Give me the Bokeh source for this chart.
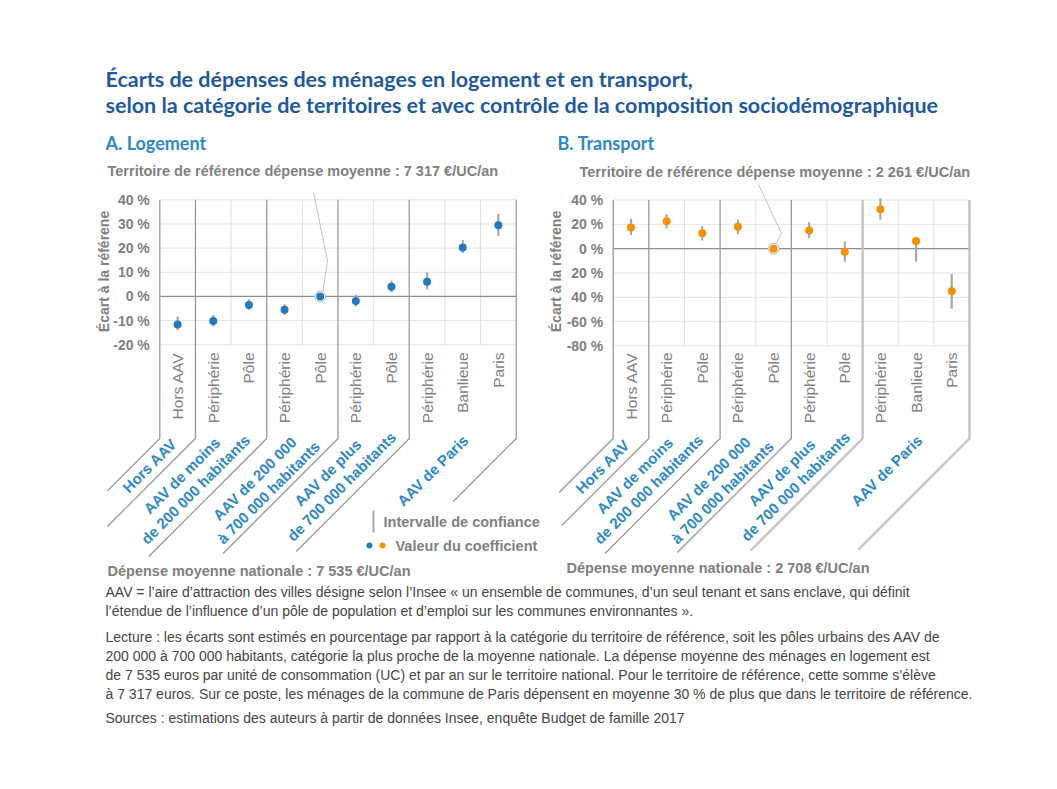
import math
from bokeh.plotting import figure
from bokeh.models import Range1d, LinearAxis, FixedTicker
from bokeh.core.properties import value
from bokeh.embed import file_html
from bokeh.resources import INLINE

# ---------------- data ----------------
categories = ["Hors AAV", "Périphérie", "Pôle", "Périphérie", "Pôle",
              "Périphérie", "Pôle", "Périphérie", "Banlieue", "Paris"]
groups = ["Hors AAV", "AAV de moins\nde 200 000 habitants",
          "AAV de 200 000\nà 700 000 habitants",
          "AAV de plus\nde 700 000 habitants", "AAV de Paris"]
group_sizes = [1, 2, 2, 2, 3]
reference_index = 4

logement_coef = [-11.6, -10.2, -3.5, -5.5, 0.0, -1.9, 4.0, 6.1, 20.3, 29.5]
logement_low = [-14.0, -12.3, -5.5, -7.6, 0.0, -4.2, 1.7, 3.0, 18.0, 25.0]
logement_high = [-8.3, -7.7, -1.1, -3.2, 0.0, 0.6, 6.5, 10.0, 23.4, 34.2]

transport_coef = [17.5, 22.5, 12.7, 18.0, 0.0, 14.9, -2.5, 32.4, 6.2, -34.9]
transport_low = [11.3, 16.6, 6.8, 12.1, 0.0, 8.5, -10.7, 23.7, -10.7, -49.3]
transport_high = [24.5, 28.2, 18.6, 23.9, 0.0, 21.7, 5.9, 41.4, 8.5, -20.8]

logement_ticks = [-20, -10, 0, 10, 20, 30, 40]
logement_tick_labels = ["-20 %", "-10 %", "0 %", "10 %", "20 %", "30 %", "40 %"]
transport_ticks = [-80, -60, -40, -20, 0, 20, 40]
transport_tick_labels = ["-80 %", "-60 %", "40 %", "20 %", "0 %", "20 %", "40 %"]

title_lines = ["Écarts de dépenses des ménages en logement et en transport,",
               "selon la catégorie de territoires et avec contrôle de la composition sociodémographique"]
panel_titles = ["A. Logement", "B. Transport"]
reference_texts = ["Territoire de référence dépense moyenne : 7 317 €/UC/an",
                   "Territoire de référence dépense moyenne : 2 261 €/UC/an"]
national_texts = ["Dépense moyenne nationale  : 7 535 €/UC/an",
                  "Dépense moyenne nationale : 2 708 €/UC/an"]
y_axis_title = "Écart à la référene"
legend_texts = ["Intervalle de confiance", "Valeur du coefficient"]
notes = [
    "AAV = l’aire d’attraction des villes désigne selon l’Insee « un ensemble de communes, d’un seul tenant et sans enclave, qui définit",
    "l’étendue de l’influence d’un pôle de population et d’emploi sur les communes environnantes ».",
    "Lecture : les écarts sont estimés en pourcentage par rapport à la catégorie du territoire de référence, soit les pôles urbains des AAV de",
    "200 000 à 700 000 habitants, catégorie la plus proche de la moyenne nationale. La dépense moyenne des ménages en logement est",
    "de 7 535 euros par unité de consommation (UC) et par an sur le territoire national. Pour le territoire de référence, cette somme s’élève",
    "à 7 317 euros. Sur ce poste, les ménages de la commune de Paris dépensent en moyenne 30 % de plus que dans le territoire de référence.",
    "Sources : estimations des auteurs à partir de données Insee, enquête Budget de famille 2017",
]

# ---------------- styles ----------------
BLUE_DOT = "#2479bd"
ORANGE_DOT = "#f39200"
GRAY_TXT = "#808080"
CI_GRAY = "#a8a8a8"
TITLE_BLUE = "#1f5a9b"
SUB_BLUE = "#2e88c6"
FONT = "Liberation Sans"
HEAD = "Lato"

W, H = 1041, 773
OX, OY = 0, 0


def Y(py):
    return 2 * OY + H - py


p = figure(width=W, height=H, x_range=Range1d(OX, OX + W), y_range=Range1d(OY, OY + H),
           output_backend="svg", toolbar_location=None, x_axis_type=None, y_axis_type=None,
           min_border=0, outline_line_color=None, background_fill_color="white")


def page_text(x, y, txt, size, color, style="normal", font=FONT, angle=0.0,
              align="left", baseline="middle", **kw):
    p.text(x=[x], y=[Y(y)], text=[txt], text_font=value(font), text_font_size=f"{size}px",
           text_color=color, text_font_style=style, angle=angle, text_align=align,
           text_baseline=baseline, **kw)


def lin(v0, p0, v1, p1):
    k = (v1 - v0) / (p1 - p0)
    return lambda s: v0 + (s - p0) * k


panels = [
    dict(name="log", coef=logement_coef, low=logement_low, high=logement_high,
         ticks=logement_ticks, labels=logement_tick_labels, color=BLUE_DOT,
         px0=159.3, px10=515.7, ytop=(40, 199.3), ybot=(-20, 344.3),
         drops=[52, 88, 118, 115, 113, 63], knee=438, cat_top=352,
         group_pos=[(149, 465), (188, 482), (261, 485), (334, 479), (432, 470)],
         callout=[(313, 192), (327, 260), (322, 294)], yaxis_x=103,
         edge_styles=[("#9a9a9a", 1.3)] * 6),
    dict(name="tra", coef=transport_coef, low=transport_low, high=transport_high,
         ticks=transport_ticks, labels=transport_tick_labels, color=ORANGE_DOT,
         px0=612.7, px10=969.0, ytop=(40, 199.5), ybot=(-80, 345.5),
         drops=[54, 87, 115, 114, 112, 111], knee=438, cat_top=352,
         group_pos=[(602, 466), (641, 482), (715, 485), (788, 479), (886, 470)],
         callout=[(758, 184), (781, 233), (773, 247)], yaxis_x=555,
         edge_styles=[("#9a9a9a", 1.3)] * 4 + [("#c4c4c4", 2.4)] * 2),
]

edges = [0]
for g in group_sizes:
    edges.append(edges[-1] + g)
inner = [i for i in range(1, len(categories)) if i not in edges]
centers = [i + 0.5 for i in range(len(categories))]

for pi_, P in enumerate(panels):
    fx = lin(0, P["px0"], len(categories), P["px10"])          # page x -> data x
    fy = lin(P["ytop"][0], P["ytop"][1], P["ybot"][0], P["ybot"][1])  # page y -> data y
    xr, yr = P["name"] + "_x", P["name"] + "_y"
    p.extra_x_ranges[xr] = Range1d(fx(OX), fx(OX + W))
    p.extra_y_ranges[yr] = Range1d(fy(OY + H), fy(OY))
    kw = dict(x_range_name=xr, y_range_name=yr)
    tmin, tmax = min(P["ticks"]), max(P["ticks"])
    nc = len(categories)

    # horizontal grid
    gy = [t for t in P["ticks"] if t != 0]
    p.segment(x0=[0] * len(gy), y0=gy, x1=[nc] * len(gy), y1=gy,
              line_color="#e3e3e3", line_width=1, **kw)
    # inner vertical lines
    p.segment(x0=inner, y0=[tmin] * len(inner), x1=inner, y1=[tmax] * len(inner),
              line_color="#e0e0e0", line_width=1, **kw)
    # zero line
    p.segment(x0=[0], y0=[0], x1=[nc], y1=[0], line_color="#8c8c8c", line_width=1.3, **kw)

    # group edges with diagonals
    knee = fy(P["knee"])
    for e, d, (col, lw) in zip(edges, P["drops"], P["edge_styles"]):
        ex_px = P["px0"] + (P["px10"] - P["px0"]) * e / nc
        xs = [e, e, fx(ex_px - d)]
        ys = [tmax, knee, fy(P["knee"] + d)]
        p.line(x=xs, y=ys, line_color=col, line_width=lw, **kw)

    # callout line (page coords)
    cx = [c[0] for c in P["callout"]]
    cy = [Y(c[1]) for c in P["callout"]]
    p.line(x=cx, y=cy, line_color="#c0c0c0", line_width=1)

    # confidence intervals
    p.segment(x0=centers, y0=P["low"], x1=centers, y1=P["high"],
              line_color=CI_GRAY, line_width=2.2, **kw)
    # reference ring
    p.scatter(x=[centers[reference_index]], y=[P["coef"][reference_index]], size=11,
              fill_color="white", line_color="#b0b0b0", line_width=1, **kw)
    # coefficient dots
    p.scatter(x=centers, y=P["coef"], size=8, fill_color=P["color"], line_color=None, **kw)

    # category labels
    p.text(x=centers, y=[fy(P["cat_top"])] * nc, text=categories, angle=math.pi / 2,
           text_align="right", text_baseline="middle", text_font=value(FONT),
           text_font_size="15.5px", text_color=GRAY_TXT, **kw)

    # group labels
    for (gx, gyy), g in zip(P["group_pos"], groups):
        page_text(gx, gyy, g, 15, SUB_BLUE, style="bold", angle=math.pi / 4,
                  align="center", text_line_height=1.15)

    # y axis
    ax = LinearAxis(x_range_name=xr, y_range_name=yr, fixed_location=0,
                    ticker=FixedTicker(ticks=P["ticks"]), bounds=(tmin, tmax),
                    major_label_overrides={t: l for t, l in zip(P["ticks"], P["labels"])},
                    axis_line_color=None, major_tick_line_color=None,
                    minor_tick_line_color=None, major_label_standoff=4,
                    major_label_text_font=FONT, major_label_text_font_size="14px",
                    major_label_text_font_style="bold", major_label_text_color=GRAY_TXT)
    p.add_layout(ax, "left")

    # y axis title
    page_text(P["yaxis_x"], 271, y_axis_title, 14, GRAY_TXT, style="bold",
              angle=math.pi / 2, align="center")

# titles
page_text(105, 78, title_lines[0], 21.5, TITLE_BLUE, style="bold", font=HEAD)
page_text(105, 104, title_lines[1], 21.5, TITLE_BLUE, style="bold", font=HEAD)
page_text(105, 142, panel_titles[0], 18, SUB_BLUE, style="bold", font=HEAD)
page_text(557, 142, panel_titles[1], 18, SUB_BLUE, style="bold", font=HEAD)
page_text(107, 170, reference_texts[0], 14.5, GRAY_TXT, style="bold")
page_text(579, 171, reference_texts[1], 14.5, GRAY_TXT, style="bold")
page_text(107, 570, national_texts[0], 14.5, GRAY_TXT, style="bold")
page_text(566, 567, national_texts[1], 14.5, GRAY_TXT, style="bold")

# legend
p.line(x=[373, 373], y=[Y(510), Y(532)], line_color=CI_GRAY, line_width=2)
p.scatter(x=[369, 382], y=[Y(545), Y(545)], size=6, fill_color=[BLUE_DOT, ORANGE_DOT],
          line_color=None)
page_text(383, 521, legend_texts[0], 14.5, GRAY_TXT, style="bold")
page_text(395, 545, legend_texts[1], 14.5, GRAY_TXT, style="bold")

# notes
for y, t in zip([591, 610, 636, 655, 674, 693, 717], notes):
    page_text(105, y, t, 14, "#454545")

open("out.html", "w").write(file_html(p, INLINE))
